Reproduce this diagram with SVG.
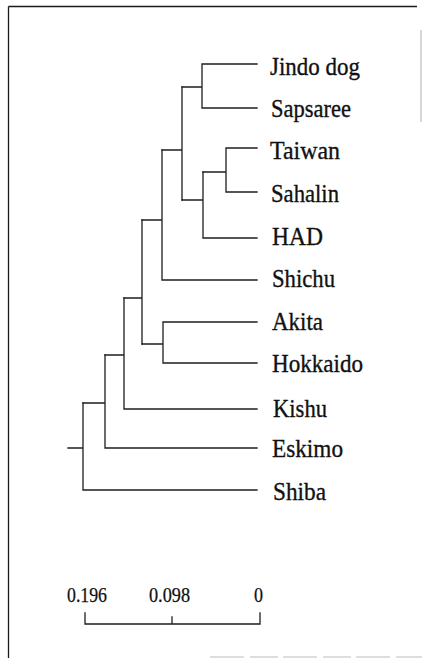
<svg xmlns="http://www.w3.org/2000/svg" width="422" height="658" viewBox="0 0 422 658">
<style>
.frame{stroke:#1a1a1a;stroke-width:1.3;fill:none}
.faint{stroke:#bdbdbd;stroke-width:1.2;fill:none}
.br{stroke:#1e1e1e;stroke-width:1.3;fill:none;stroke-linecap:square}
.lbl{font-family:"Liberation Serif","Times New Roman",serif;font-size:26px;fill:#111;stroke:#111;stroke-width:0.35}
.sc{font-family:"Liberation Serif","Times New Roman",serif;font-size:20px;fill:#111;stroke:#111;stroke-width:0.25}
</style>
<rect width="422" height="658" fill="#ffffff"/>
<g id="frame">
<path class="frame" d="M8.5,6.5 H417 M8.5,6.5 V658"/>
<path class="faint" d="M421,30 V122"/>
<path class="faint" d="M210,657 H422" stroke-dasharray="34,6,28,5"/>
</g>
<g id="connectors">
<path class="br" d="M202,64 H257 M202,108 H257 M202,64 V108 M182,87 H202"/>
<path class="br" d="M226,148 H257 M226,192 H257 M226,148 V192 M203,172 H226"/>
<path class="br" d="M203,238 H257 M203,172 V238 M182,200 H203"/>
<path class="br" d="M182,87 V200 M162,150 H182"/>
<path class="br" d="M162,280 H257 M162,150 V280 M142,220 H162"/>
<path class="br" d="M163,322 H257 M163,363 H257 M163,322 V363 M142,344 H163"/>
<path class="br" d="M142,220 V344 M124,298 H142"/>
<path class="br" d="M124,409 H257 M124,298 V409 M105,355 H124"/>
<path class="br" d="M105,448 H257 M105,355 V448 M83,403 H105"/>
<path class="br" d="M83,490 H257 M83,403 V490 M68,448 H83"/>
</g>
<g id="jindo-dog"><text class="lbl" x="270" y="75" textLength="90" lengthAdjust="spacingAndGlyphs">Jindo dog</text></g>
<g id="sapsaree"><text class="lbl" x="271" y="117" textLength="80" lengthAdjust="spacingAndGlyphs">Sapsaree</text></g>
<g id="taiwan"><text class="lbl" x="270" y="159" textLength="70" lengthAdjust="spacingAndGlyphs">Taiwan</text></g>
<g id="sahalin"><text class="lbl" x="271" y="202" textLength="68" lengthAdjust="spacingAndGlyphs">Sahalin</text></g>
<g id="had"><text class="lbl" x="272" y="245" textLength="51" lengthAdjust="spacingAndGlyphs">HAD</text></g>
<g id="shichu"><text class="lbl" x="272" y="287" textLength="63" lengthAdjust="spacingAndGlyphs">Shichu</text></g>
<g id="akita"><text class="lbl" x="272" y="330" textLength="51" lengthAdjust="spacingAndGlyphs">Akita</text></g>
<g id="hokkaido"><text class="lbl" x="272" y="372" textLength="91" lengthAdjust="spacingAndGlyphs">Hokkaido</text></g>
<g id="kishu"><text class="lbl" x="273" y="417" textLength="54" lengthAdjust="spacingAndGlyphs">Kishu</text></g>
<g id="eskimo"><text class="lbl" x="272" y="457" textLength="71" lengthAdjust="spacingAndGlyphs">Eskimo</text></g>
<g id="shiba"><text class="lbl" x="273" y="500" textLength="53" lengthAdjust="spacingAndGlyphs">Shiba</text></g>
<g id="scale-bar">
<path class="br" d="M85,613 V624 H260 V613 M172,617 V624"/>
<text class="sc" x="67" y="602" textLength="40" lengthAdjust="spacingAndGlyphs">0.196</text>
<text class="sc" x="149" y="602" textLength="41" lengthAdjust="spacingAndGlyphs">0.098</text>
<text class="sc" x="254" y="602" textLength="9" lengthAdjust="spacingAndGlyphs">0</text>
</g>
</svg>
